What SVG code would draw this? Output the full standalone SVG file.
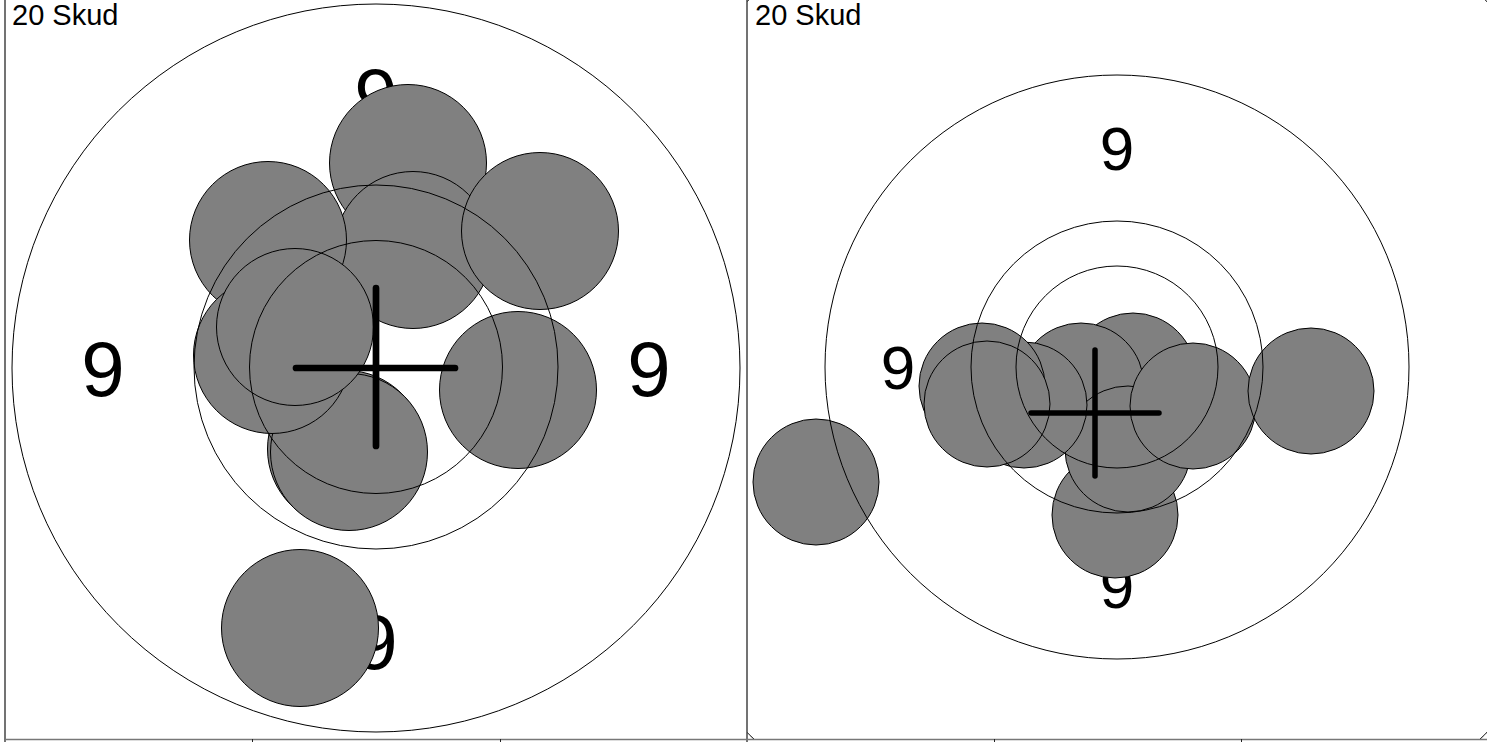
<svg xmlns="http://www.w3.org/2000/svg" width="1487" height="742" viewBox="0 0 1487 742">
  <style>
    .shot{fill:#808080;stroke:#000;stroke-width:1}
    .ring{fill:none;stroke:#000;stroke-width:1}
    .lbl{font-family:"Liberation Sans",Arial,sans-serif;fill:#000;text-anchor:middle}
    .title{font-family:"Liberation Sans",Arial,sans-serif;fill:#000;font-size:29px}
    .cross{stroke:#000;stroke-linecap:round;fill:none}
    .frame{stroke:#444;stroke-width:1.5;fill:none}
    .axis{stroke:#777;stroke-width:1.5;fill:none}
    .tick{stroke:#222;stroke-width:1;fill:none}
  </style>
  <defs>
    <clipPath id="clipR">
      <rect x="747" y="0" width="740" height="739"/>
    </clipPath>
  </defs>

  <rect x="0" y="0" width="1487" height="742" fill="#fff"/>

  <!-- Left panel -->
  <g id="panel-left">
    <g id="labels-left" class="lbl" font-size="78">
      <text x="103" y="396">9</text>
      <text x="649" y="396">9</text>
      <text x="376" y="123">9</text>
      <text x="376" y="669">9</text>
    </g>
    <g id="shots-left">
      <circle class="shot" cx="408" cy="163" r="78.5"/>
      <circle class="shot" cx="413" cy="250" r="78.5"/>
      <circle class="shot" cx="540" cy="231" r="78.5"/>
      <circle class="shot" cx="268" cy="240" r="78.5"/>
      <circle class="shot" cx="518" cy="390" r="78.5"/>
      <circle class="shot" cx="300" cy="628" r="78.5"/>
      <circle class="shot" cx="346" cy="449" r="78.5"/>
      <circle class="shot" cx="349" cy="452" r="78.5"/>
      <circle class="shot" cx="272" cy="355" r="78.5"/>
      <circle class="shot" cx="295" cy="327" r="78.5"/>
    </g>
    <g id="rings-left">
      <circle class="ring" cx="376" cy="368" r="364"/>
      <circle class="ring" cx="376" cy="367" r="182"/>
      <circle class="ring" cx="376" cy="367" r="126.5"/>
    </g>
    <g id="cross-left" class="cross" stroke-width="6.7">
      <line x1="296" y1="368" x2="455" y2="368"/>
      <line x1="376" y1="288" x2="376" y2="446"/>
    </g>
    <text class="title" x="12" y="24.5">20 Skud</text>
  </g>

  <!-- Right panel -->
  <g id="panel-right" clip-path="url(#clipR)">
    <g id="labels-right" class="lbl" font-size="62">
      <text x="898" y="389">9</text>
      <text x="1336" y="389">9</text>
      <text x="1117" y="170">9</text>
      <text x="1117" y="608">9</text>
    </g>
    <g id="shots-right">
      <circle class="shot" cx="1133" cy="376" r="63"/>
      <circle class="shot" cx="1081" cy="386" r="63"/>
      <circle class="shot" cx="1115" cy="515" r="63"/>
      <circle class="shot" cx="1128" cy="449" r="63"/>
      <circle class="shot" cx="1024" cy="405" r="63"/>
      <circle class="shot" cx="982" cy="386" r="63"/>
      <circle class="shot" cx="987" cy="404" r="63"/>
      <circle class="shot" cx="1193" cy="406" r="63"/>
      <circle class="shot" cx="1311" cy="391" r="63"/>
      <circle class="shot" cx="816" cy="482" r="63"/>
    </g>
    <g id="rings-right">
      <circle class="ring" cx="1117" cy="367" r="520"/>
      <circle class="ring" cx="1117" cy="367" r="292"/>
      <circle class="ring" cx="1117" cy="367" r="146"/>
      <circle class="ring" cx="1117" cy="367" r="101"/>
    </g>
    <g id="cross-right" class="cross" stroke-width="5.5">
      <line x1="1031" y1="413" x2="1159" y2="413"/>
      <line x1="1095" y1="350" x2="1095" y2="476"/>
    </g>
    <text class="title" x="755" y="24.5">20 Skud</text>
  </g>

  <!-- Frame / axes -->
  <g id="frame">
    <line class="frame" x1="5" y1="0" x2="5" y2="742"/>
    <line class="frame" x1="747" y1="0" x2="747" y2="742"/>
    <line class="axis" x1="5" y1="739.5" x2="1487" y2="739.5"/>
    <line class="tick" x1="252.5" y1="739" x2="252.5" y2="742"/>
    <line class="tick" x1="500.5" y1="739" x2="500.5" y2="742"/>
    <line class="tick" x1="994.5" y1="739" x2="994.5" y2="742"/>
    <line class="tick" x1="1241.5" y1="739" x2="1241.5" y2="742"/>
  </g>
</svg>
